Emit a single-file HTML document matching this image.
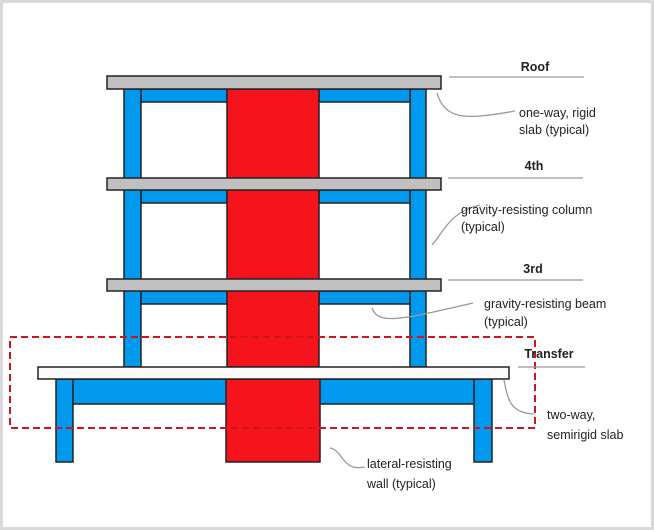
<!DOCTYPE html>
<html><head><meta charset="utf-8"><style>
html,body{margin:0;padding:0;background:#fff;}
svg{display:block;}
text{font-family:"Liberation Sans",sans-serif;fill:#222;}
</style></head><body>
<svg width="654" height="530" viewBox="0 0 654 530">
<rect x="1.5" y="1.5" width="651" height="527" fill="#fff" stroke="#d9d9d9" stroke-width="3"/>
<g stroke="#222" stroke-width="1.5">
<!-- upper columns -->
<rect x="124" y="89" width="17" height="278" fill="#0099ee"/>
<rect x="410" y="89" width="16" height="278" fill="#0099ee"/>
<!-- beams -->
<rect x="141" y="89" width="86" height="13" fill="#0099ee"/>
<rect x="319" y="89" width="91" height="13" fill="#0099ee"/>
<rect x="141" y="190" width="86" height="13" fill="#0099ee"/>
<rect x="319" y="190" width="91" height="13" fill="#0099ee"/>
<rect x="141" y="291" width="86" height="13" fill="#0099ee"/>
<rect x="319" y="291" width="91" height="13" fill="#0099ee"/>
<!-- lower -->
<rect x="56" y="379" width="17" height="83" fill="#0099ee"/>
<rect x="474" y="379" width="18" height="83" fill="#0099ee"/>
<rect x="73" y="379" width="401" height="25" fill="#0099ee"/>
<!-- wall -->
<rect x="227" y="89" width="92" height="278" fill="#f5141c"/>
<rect x="226" y="379" width="94" height="83" fill="#f5141c"/>
<!-- slabs -->
<rect x="107" y="76" width="334" height="13" fill="#c0c0c0"/>
<rect x="107" y="178" width="334" height="12" fill="#c0c0c0"/>
<rect x="107" y="279" width="334" height="12" fill="#c0c0c0"/>
<rect x="38" y="367" width="471" height="12" fill="#fbfbfb"/>
</g>
<rect x="10" y="337" width="525" height="91" fill="none" stroke="#d0141c" stroke-width="2" stroke-dasharray="7,4"/>
<g stroke="#999" stroke-width="1.3" fill="none">
<line x1="449" y1="77" x2="584" y2="77"/>
<line x1="448" y1="178" x2="583" y2="178"/>
<line x1="448" y1="280" x2="583" y2="280"/>
<line x1="518" y1="367" x2="585" y2="367"/>
<path d="M437 93 C445 120,465 120,515 111"/>
<path d="M432 245 C445 230,450 212,480 205"/>
<path d="M372 308 C378 325,400 320,473 303"/>
<path d="M504 380 C508 400,510 413,534 414"/>
<path d="M330 448 C343 450,342 472,365 467"/>
</g>
<g font-size="12.5" font-weight="bold" text-anchor="middle">
<text x="535" y="71">Roof</text>
<text x="534" y="170">4th</text>
<text x="533" y="273">3rd</text>
<text x="549" y="358">Transfer</text>
</g>
<g font-size="12.5">
<text x="519" y="117"><tspan x="519">one-way, rigid</tspan><tspan x="519" dy="17">slab (typical)</tspan></text>
<text x="461" y="214"><tspan x="461">gravity-resisting column</tspan><tspan x="461" dy="17">(typical)</tspan></text>
<text x="484" y="308"><tspan x="484">gravity-resisting beam</tspan><tspan x="484" dy="18">(typical)</tspan></text>
<text x="547" y="419"><tspan x="547">two-way,</tspan><tspan x="547" dy="20">semirigid slab</tspan></text>
<text x="367" y="468"><tspan x="367">lateral-resisting</tspan><tspan x="367" dy="20">wall (typical)</tspan></text>
</g>
</svg>
</body></html>
